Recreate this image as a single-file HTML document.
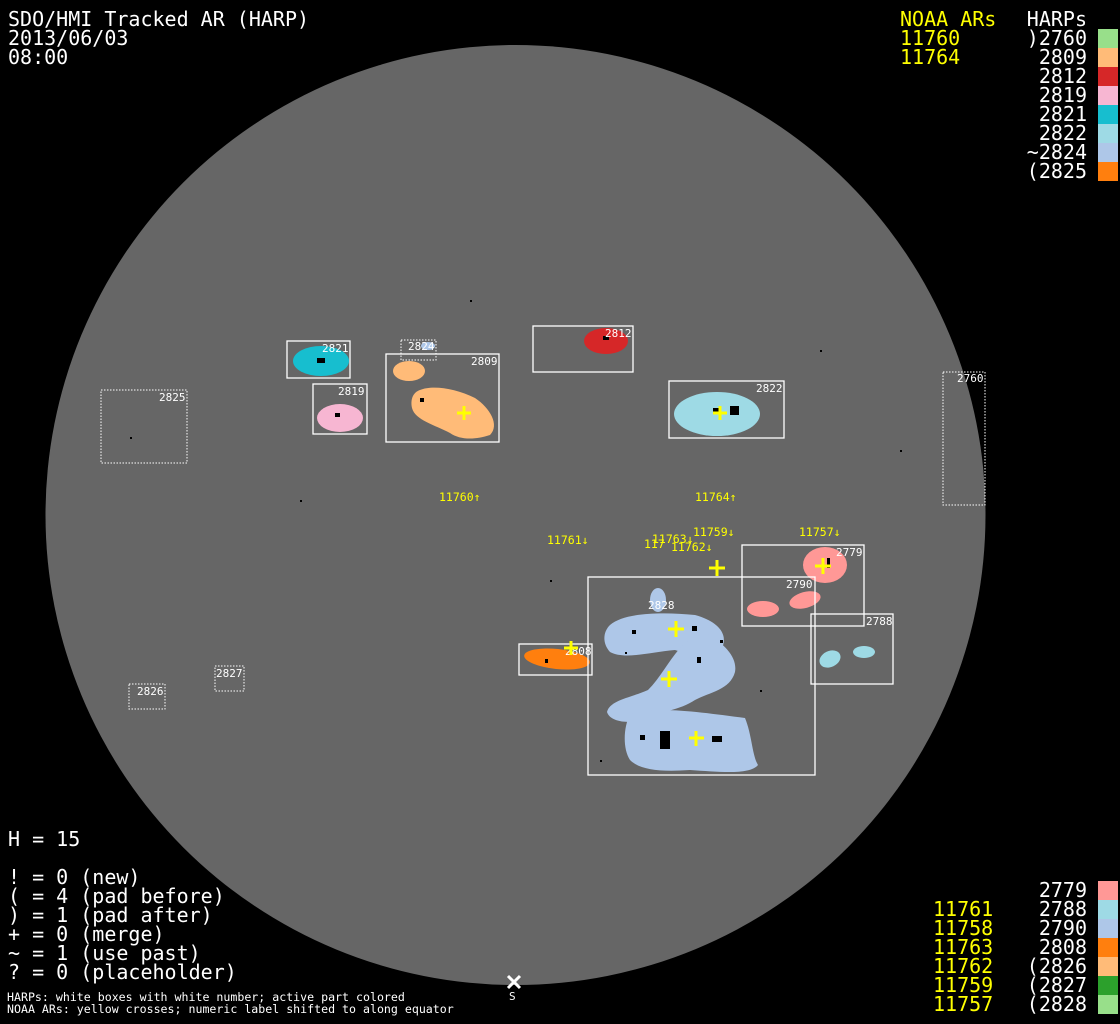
<!DOCTYPE html>
<html><head><meta charset="utf-8"><style>
html,body{margin:0;padding:0;background:#000;width:1120px;height:1024px;overflow:hidden}
svg{display:block}
text{font-family:"DejaVu Sans Mono","Liberation Mono",monospace}
.big{font-size:20px;fill:#fff}
.y{fill:#ffff00}
.lbl{font-size:11px;fill:#fff}
.ft{font-size:11.6px;fill:#fff}
.yl{font-size:11.5px;fill:#ffff00}
.box{fill:none;stroke:#fff;stroke-width:1.3}
.dbox{fill:none;stroke:#fff;stroke-width:1;stroke-dasharray:1.5 1.5}
.cr{stroke:#ffff00;stroke-width:3}
</style></head><body>
<svg width="1120" height="1024" viewBox="0 0 1120 1024" xmlns="http://www.w3.org/2000/svg">
<rect width="1120" height="1024" fill="#000"/>
<circle cx="515.5" cy="515" r="470" fill="#666"/>

<!-- blobs -->
<ellipse cx="321" cy="361" rx="28" ry="15" fill="#17becf"/>
<ellipse cx="340" cy="418" rx="23" ry="14" fill="#f7b6d2"/>
<ellipse cx="428" cy="346" rx="7" ry="4" fill="#aec7e8"/>
<ellipse cx="409" cy="371" rx="16" ry="10" fill="#ffbb78"/>
<path d="M420,390 C432,385 455,388 475,398 C490,408 500,425 490,435 C475,440 460,440 450,433 C435,425 415,420 412,408 C410,398 414,392 420,390 Z" fill="#ffbb78"/>
<ellipse cx="606" cy="341" rx="22" ry="13" fill="#d62728"/>
<ellipse cx="717" cy="414" rx="43" ry="22" fill="#9edae5"/>
<ellipse cx="557" cy="659" rx="33" ry="10" transform="rotate(6 557 659)" fill="#ff7f0e"/>
<ellipse cx="825" cy="565" rx="22" ry="18" fill="#ff9896"/>
<ellipse cx="805" cy="600" rx="16" ry="8" transform="rotate(-15 805 600)" fill="#ff9896"/>
<ellipse cx="763" cy="609" rx="16" ry="8" fill="#ff9896"/>
<ellipse cx="830" cy="659" rx="11" ry="8" transform="rotate(-25 830 659)" fill="#9edae5"/>
<ellipse cx="864" cy="652" rx="11" ry="6" fill="#9edae5"/>
<g fill="#aec7e8">
<ellipse cx="658" cy="600" rx="8" ry="12"/>
<path d="M610,625 C625,612 665,612 695,615 C720,622 728,635 722,648 C705,660 690,655 675,650 C650,652 625,660 610,652 C602,643 603,632 610,625 Z"/>
<path d="M700,630 C720,640 738,655 735,672 C730,690 710,692 695,700 C680,710 660,712 645,718 C630,725 610,722 607,712 C610,700 630,698 648,690 C660,678 668,662 680,648 Z"/>
<path d="M630,715 C650,705 700,712 745,718 C752,735 752,755 758,765 C750,775 720,772 690,770 C660,772 640,770 630,760 C622,748 624,725 630,715 Z"/>
</g>

<!-- black specks -->
<g fill="#000">
<rect x="317" y="358" width="8" height="5"/><rect x="335" y="413" width="5" height="4"/>
<rect x="420" y="398" width="4" height="4"/><rect x="660" y="731" width="10" height="18"/>
<rect x="640" y="735" width="5" height="5"/><rect x="713" y="408" width="6" height="5"/>
<rect x="730" y="406" width="9" height="9"/><rect x="632" y="630" width="4" height="4"/>
<rect x="692" y="626" width="5" height="5"/><rect x="697" y="657" width="4" height="6"/>
<rect x="712" y="736" width="10" height="6"/><rect x="827" y="558" width="3" height="10"/>
<rect x="603" y="336" width="6" height="4"/><rect x="545" y="659" width="3" height="4"/>
<rect x="130" y="437" width="2" height="2"/><rect x="625" y="652" width="2" height="2"/>
<rect x="600" y="760" width="2" height="2"/><rect x="760" y="690" width="2" height="2"/>
<rect x="550" y="580" width="2" height="2"/><rect x="720" y="640" width="3" height="3"/>
<rect x="470" y="300" width="2" height="2"/><rect x="820" y="350" width="2" height="2"/>
<rect x="300" y="500" width="2" height="2"/><rect x="900" y="450" width="2" height="2"/>
</g>

<!-- boxes -->
<rect class="box" x="287" y="341" width="63" height="37"/>
<rect class="box" x="313" y="384" width="54" height="50"/>
<rect class="dbox" x="401" y="340" width="35" height="20"/>
<rect class="box" x="386" y="354" width="113" height="88"/>
<rect class="box" x="533" y="326" width="100" height="46"/>
<rect class="box" x="669" y="381" width="115" height="57"/>
<rect class="dbox" x="101" y="390" width="86" height="73"/>
<rect class="dbox" x="943" y="372" width="42" height="133"/>
<rect class="dbox" x="215" y="666" width="29" height="25"/>
<rect class="dbox" x="129" y="684" width="36" height="25"/>
<rect class="box" x="588" y="577" width="227" height="198"/>
<rect class="box" x="742" y="545" width="122" height="81"/>
<rect class="box" x="811" y="614" width="82" height="70"/>
<rect class="box" x="519" y="644" width="73" height="31"/>

<!-- box labels -->
<g class="lbl">
<text x="322" y="352">2821</text><text x="338" y="395">2819</text>
<text x="408" y="350">2824</text><text x="471" y="365">2809</text>
<text x="605" y="337">2812</text><text x="756" y="392">2822</text>
<text x="159" y="401">2825</text><text x="957" y="382">2760</text>
<text x="216" y="677">2827</text><text x="137" y="695">2826</text>
<text x="648" y="609">2828</text><text x="836" y="556">2779</text>
<text x="786" y="588">2790</text><text x="866" y="625">2788</text>
<text x="565" y="655">2808</text>
</g>

<!-- crosses -->
<g class="cr">
<path d="M709,568h16M717,560v16"/><path d="M668,629h16M676,621v16"/>
<path d="M661,679h16M669,671v16"/><path d="M689,738h15M696,731v15"/>
<path d="M815,566h16M823,558v16"/><path d="M564,648h14M571,641v14"/>
<path d="M457,413h14M464,406v14"/><path d="M713,413h14M720,406v14"/>
</g>

<!-- yellow labels -->
<g class="yl">
<text x="439" y="501">11760↑</text><text x="695" y="501">11764↑</text>
<text x="547" y="544">11761↓</text><text x="693" y="536">11759↓</text>
<text x="644" y="548">117</text><text x="652" y="543">11763↓</text>
<text x="671" y="551">11762↓</text><text x="799" y="536">11757↓</text>
</g>

<!-- header -->
<g class="big">
<text x="8" y="26">SDO/HMI Tracked AR (HARP)</text>
<text x="8" y="45">2013/06/03</text>
<text x="8" y="64">08:00</text>
<text x="1087" y="26" text-anchor="end">HARPs</text>
<text x="1087" y="45" text-anchor="end">)2760</text>
<text x="1087" y="64" text-anchor="end">2809</text>
<text x="1087" y="83" text-anchor="end">2812</text>
<text x="1087" y="102" text-anchor="end">2819</text>
<text x="1087" y="121" text-anchor="end">2821</text>
<text x="1087" y="140" text-anchor="end">2822</text>
<text x="1087" y="159" text-anchor="end">~2824</text>
<text x="1087" y="178" text-anchor="end">(2825</text>
</g>
<g class="big y">
<text x="900" y="26">NOAA ARs</text>
<text x="900" y="45">11760</text>
<text x="900" y="64">11764</text>
</g>
<rect x="1098" y="29" width="20" height="19" fill="#98df8a"/>
<rect x="1098" y="48" width="20" height="19" fill="#ffbb78"/>
<rect x="1098" y="67" width="20" height="19" fill="#d62728"/>
<rect x="1098" y="86" width="20" height="19" fill="#f7b6d2"/>
<rect x="1098" y="105" width="20" height="19" fill="#17becf"/>
<rect x="1098" y="124" width="20" height="19" fill="#9edae5"/>
<rect x="1098" y="143" width="20" height="19" fill="#aec7e8"/>
<rect x="1098" y="162" width="20" height="19" fill="#ff7f0e"/>

<!-- bottom left -->
<g class="big">
<text x="8" y="846">H = 15</text>
<text x="8" y="884">! = 0 (new)</text>
<text x="8" y="903">( = 4 (pad before)</text>
<text x="8" y="922">) = 1 (pad after)</text>
<text x="8" y="941">+ = 0 (merge)</text>
<text x="8" y="960">~ = 1 (use past)</text>
<text x="8" y="979">? = 0 (placeholder)</text>
</g>
<text class="ft" x="7" y="1001">HARPs: white boxes with white number; active part colored</text>
<text class="ft" x="7" y="1013">NOAA ARs: yellow crosses; numeric label shifted to along equator</text>
<path d="M508,976l12,12M520,976l-12,12" stroke="#fff" stroke-width="3"/>
<text class="lbl" x="509" y="1000">S</text>

<!-- bottom right -->
<g class="big">
<text x="1087" y="897" text-anchor="end">2779</text>
<text x="1087" y="916" text-anchor="end">2788</text>
<text x="1087" y="935" text-anchor="end">2790</text>
<text x="1087" y="954" text-anchor="end">2808</text>
<text x="1087" y="973" text-anchor="end">(2826</text>
<text x="1087" y="992" text-anchor="end">(2827</text>
<text x="1087" y="1011" text-anchor="end">(2828</text>
</g>
<g class="big y">
<text x="933" y="916">11761</text>
<text x="933" y="935">11758</text>
<text x="933" y="954">11763</text>
<text x="933" y="973">11762</text>
<text x="933" y="992">11759</text>
<text x="933" y="1011">11757</text>
</g>
<rect x="1098" y="881" width="20" height="19" fill="#ff9896"/>
<rect x="1098" y="900" width="20" height="19" fill="#9edae5"/>
<rect x="1098" y="919" width="20" height="19" fill="#aec7e8"/>
<rect x="1098" y="938" width="20" height="19" fill="#ff7f0e"/>
<rect x="1098" y="957" width="20" height="19" fill="#ffbb78"/>
<rect x="1098" y="976" width="20" height="19" fill="#2ca02c"/>
<rect x="1098" y="995" width="20" height="19" fill="#98df8a"/>
</svg>
</body></html>
